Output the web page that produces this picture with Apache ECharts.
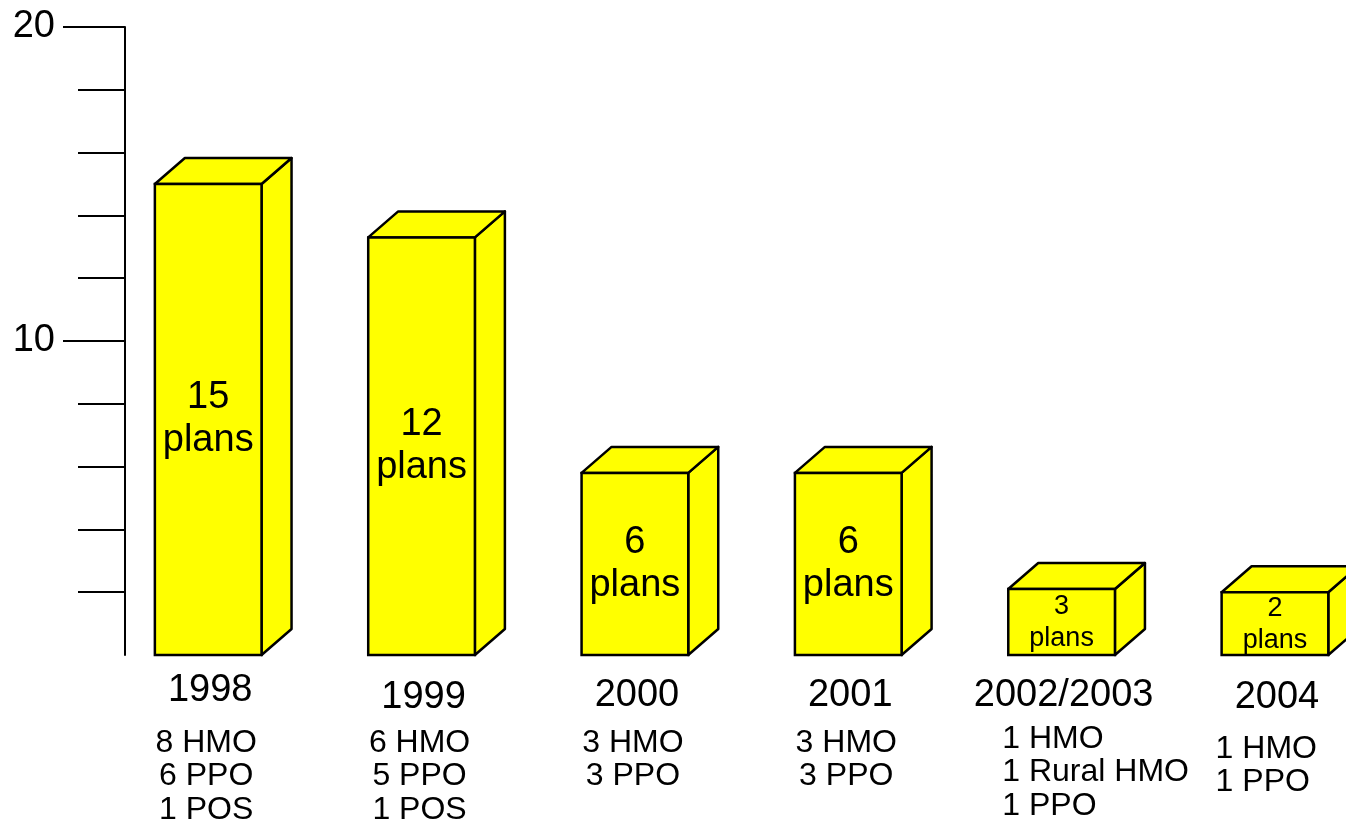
<!DOCTYPE html>
<html>
<head>
<meta charset="utf-8">
<script src="https://cdn.jsdelivr.net/npm/echarts@6/dist/echarts.min.js"></script>
<style>
  html, body { margin: 0; padding: 0; background: #fff; }
  #chart { width: 1346px; height: 821px; }
</style>
</head>
<body>
<div id="chart"></div>
<script>
// ---- data ----
const categories = ['1998', '1999', '2000', '2001', '2002/2003', '2004'];
const planCounts = [15, 12, 6, 6, 3, 2];
const barValues = [15.0, 13.3, 5.8, 5.8, 2.1, 2.0];
const planMix = [
  ['8 HMO', '6 PPO', '1 POS'],
  ['6 HMO', '5 PPO', '1 POS'],
  ['3 HMO', '3 PPO'],
  ['3 HMO', '3 PPO'],
  ['1 HMO', '1 Rural HMO', '1 PPO'],
  ['1 HMO', '1 PPO']
];
const minorTicks = [2, 4, 6, 8, 12, 14, 16, 18];
const majorTicks = [10, 20];

// ---- layout / style (not data) ----
const FONT = '"Liberation Sans", Arial, Helvetica, sans-serif';
const DEPTH_X = 30, DEPTH_Y = 26;
const yearDy = [36, 43, 41, 41, 41, 43];
const noteDy = [88, 88, 88, 88, 84, 94];
const noteAlign = ['center', 'center', 'center', 'center', 'left', 'left'];

const chart = echarts.init(document.getElementById('chart'), null, { renderer: 'canvas' });

function renderItem(params, api) {
  const i = api.value(0);
  const v = api.value(1);
  const top = api.coord([i, v]);
  const base = api.coord([i, 0]);
  const w = api.size([0.5, 0])[0];
  const cx = top[0];
  const x0 = cx - w / 2, x1 = cx + w / 2;
  const yt = top[1], yb = base[1];
  const face = { fill: '#ffff00', stroke: '#000', lineWidth: 2.5, lineJoin: 'round' };
  const children = [
    { type: 'polygon', shape: { points: [[x1, yt], [x1 + DEPTH_X, yt - DEPTH_Y], [x1 + DEPTH_X, yb - DEPTH_Y], [x1, yb]] }, style: face },
    { type: 'polygon', shape: { points: [[x0, yt], [x0 + DEPTH_X, yt - DEPTH_Y], [x1 + DEPTH_X, yt - DEPTH_Y], [x1, yt]] }, style: face },
    { type: 'rect', shape: { x: x0, y: yt, width: w, height: yb - yt }, style: Object.assign({}, face, { lineJoin: 'miter' }) }
  ];
  const small = (yb - yt) < 100;
  children.push({
    type: 'text', x: cx, y: (yt + yb) / 2 + (small ? 1 : 0),
    style: {
      text: planCounts[i] + '\nplans', fontFamily: FONT,
      fontSize: small ? 27 : 38, lineHeight: small ? 32 : 43,
      fill: '#000', align: 'center', verticalAlign: 'middle'
    }
  });
  children.push({
    type: 'text', x: cx + 2, y: yb + yearDy[i],
    style: { text: categories[i], fontFamily: FONT, fontSize: 38, fill: '#000', align: 'center', verticalAlign: 'middle' }
  });
  const al = noteAlign[i];
  children.push({
    type: 'text', x: al === 'left' ? x0 - 6 : cx - 2, y: yb + noteDy[i] - 17,
    style: { text: planMix[i].join('\n'), fontFamily: FONT, fontSize: 32, lineHeight: 33.5, fill: '#000', align: al, verticalAlign: 'top' }
  });
  return { type: 'group', children };
}

const option = {
  animation: false,
  backgroundColor: '#ffffff',
  grid: { left: 125, right: 0, top: 27, bottom: 166, containLabel: false },
  xAxis: { type: 'value', min: -0.39, max: 5.333, show: false },
  yAxis: [
    {
      type: 'value', min: 0, max: 20, position: 'left',
      axisLine: { show: true, onZero: false, lineStyle: { color: '#000', width: 2 } },
      axisTick: { show: true, customValues: minorTicks, length: 47, lineStyle: { color: '#000', width: 2 } },
      axisLabel: { show: false },
      splitLine: { show: false }
    },
    {
      type: 'value', min: 0, max: 20, position: 'left',
      axisLine: { show: false, onZero: false },
      axisTick: { show: true, customValues: majorTicks, length: 62, lineStyle: { color: '#000', width: 2 } },
      axisLabel: { show: true, customValues: majorTicks, margin: 70, fontSize: 38, fontFamily: FONT, color: '#000' },
      splitLine: { show: false }
    }
  ],
  series: [{
    type: 'custom',
    clip: false,
    renderItem,
    encode: { x: 0, y: 1 },
    data: barValues.map((v, i) => [i, v])
  }]
};
chart.setOption(option);
</script>
</body>
</html>
